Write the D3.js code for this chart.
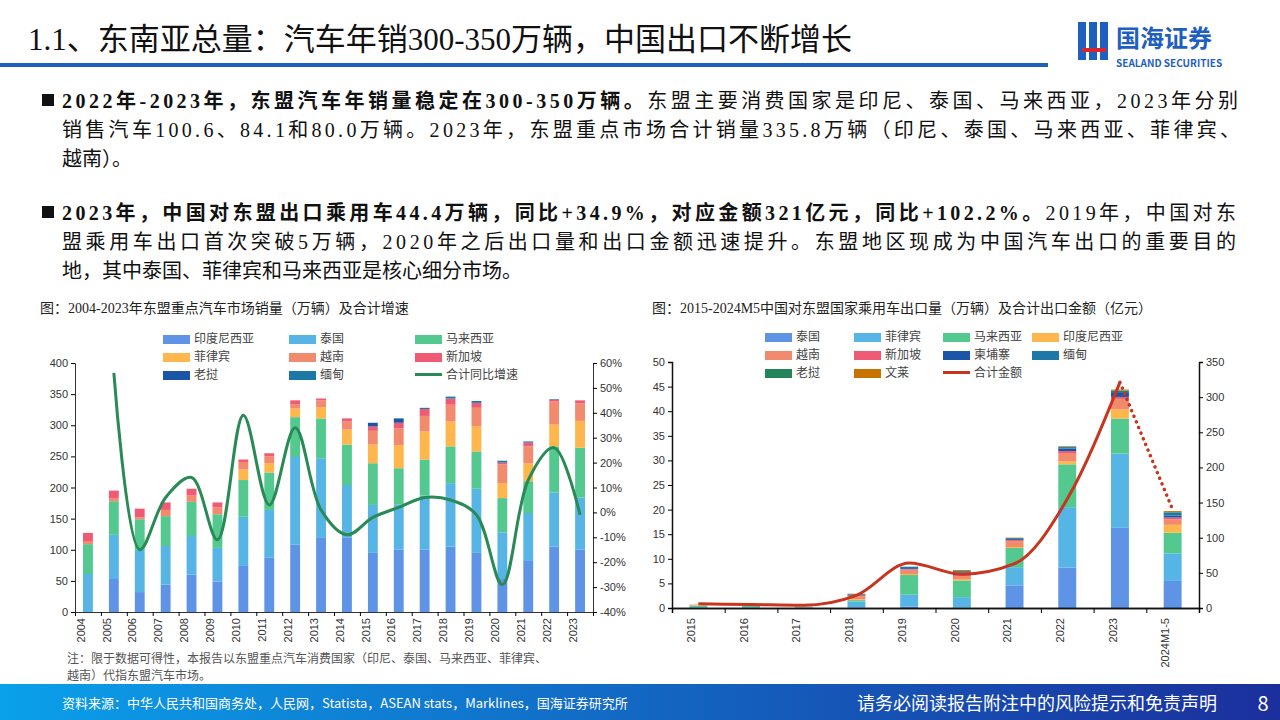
<!DOCTYPE html>
<html><head><meta charset="utf-8">
<script src="https://cdn.jsdelivr.net/npm/d3@7"></script>
<style>
body{margin:0;width:1280px;height:720px;overflow:hidden;background:#fff;font-family:"Noto Sans CJK SC","Noto Sans",sans-serif;}
svg{display:block}
</style></head><body>
<svg id="page" width="1280" height="720"></svg>
<script>
// ---- left chart data (万辆) ----
const YEARS_L = ["2004","2005","2006","2007","2008","2009","2010","2011","2012","2013","2014","2015","2016","2017","2018","2019","2020","2021","2022","2023"];
const SERIES_L = ["印度尼西亚","泰国","马来西亚","菲律宾","越南","新加坡","老挝","缅甸"];
const INDO_L = [0,53,32,44,60,49,74,87,108,119,120,95,100,100,105,95,53,82,105,100];
const THAI_L = [61,71,68,62,62,54,79,77,141,128,84,77,73,87,102,103,75,77,87,84];
const MALAY_L = [48,54,49,48,55,54,59,60,64,64,65,67,58,58,59,60,55,51,74,80];
const PHIL_L = [0,0,0,0,0,0,17,15,14,18,24,30,37,45,40,40,24,29,35,43];
const VIET_L = [5,5,3,10,10,11,12,11,7,11,13,22,27,25,27,30,30,27,37,28];
const SING_L = [13,12,14,12,11,8,4,5,6,3,5,7,9,11,10,8,3,6,3,5];
const LAOS_L = [0,0,0,0,0,0,0,0,0,0,0,6,7,0,0,0,0,0,0,0];
const MYAN_L = [0,0,0,0,0,0,0,0,0,0,0,0,0,2,3,3,3,2,1,0];
const GROWTH_L = [null,56,-15,6,14,-11,39,3,34,1,-9,-2,2,6,5,-1,-29,13,26,-1];

// ---- right chart data (万辆 / 亿元) ----
const YEARS_R = ["2015","2016","2017","2018","2019","2020","2021","2022","2023","2024M1-5"];
const SERIES_R = ["泰国","菲律宾","马来西亚","印度尼西亚","越南","新加坡","柬埔寨","缅甸","老挝","文莱"];
const THAI_R = [0.1,0.1,0.05,0.1,0.3,0.1,4.6,8.2,16.3,5.5];
const PHIL_R = [0.1,0.1,0.05,1.2,2.4,2.1,3.7,12.3,15.1,5.6];
const MALAY_R = [0.3,0.2,0.1,0.3,4.0,3.4,3.9,8.7,7.1,4.2];
const INDO_R = [0.1,0.05,0.05,0.2,0.2,0.3,0.2,0.6,1.9,1.6];
const VIET_R = [0.1,0.05,0.05,0.6,0.9,0.6,1.2,1.7,2.1,1.1];
const SING_R = [0,0,0,0.1,0.1,0.2,0.2,0.4,0.4,0.4];
const CAMB_R = [0,0,0,0.1,0.2,0.5,0.2,0.5,0.8,0.4];
const MYAN_R = [0,0,0,0.2,0.3,0.3,0.2,0.3,0.4,0.6];
const LAOS_R = [0,0,0,0,0,0,0,0.1,0.1,0.1];
const BRUN_R = [0,0,0,0.1,0,0.2,0.1,0.1,0.2,0.2];
const AMOUNT_R = [6,5,4,18,64,48,63,155,321,140];

const C = {blue:"#5e93e6",lblue:"#56b5e4",green:"#53c98f",orange:"#ffb74d",salmon:"#f28a6e",pink:"#ef5b75",dblue:"#1b55a8",teal:"#1c78a6",dgreen:"#23835a",brown:"#c87200"};
const SERIF = "'Liberation Serif','Noto Sans CJK SC',serif";

const svg = d3.select("#page");

// header
svg.append("text").attr("x",28).attr("y",50).attr("font-size",31).attr("fill","#111")
  .attr("font-family",SERIF).text("1.1、东南亚总量：汽车年销300-350万辆，中国出口不断增长");
svg.append("rect").attr("x",0).attr("y",63).attr("width",1048).attr("height",4).attr("fill","#1f5fbf");
// logo
const logo = svg.append("g").attr("transform","translate(1078,22)");
[0,11,22].forEach(dx => logo.append("rect").attr("x",dx).attr("y",0).attr("width",8).attr("height",38).attr("fill","#1f5fbf"));
logo.append("rect").attr("x",4).attr("y",26).attr("width",24).attr("height",4).attr("fill","#d8262e");
logo.append("text").attr("x",38).attr("y",25).attr("font-size",24).attr("font-weight",700).attr("fill","#1f5fbf").text("国海证券");
logo.append("text").attr("x",38).attr("y",45).attr("font-size",10).attr("font-weight",700).attr("fill","#1f5fbf").text("SEALAND SECURITIES");

// bullet paragraphs
const paras = [
  {y:108, lines:[[["2022年-2023年，东盟汽车年销量稳定在300-350万辆。",1],["东盟主要消费国家是印尼、泰国、马来西亚，2023年分别",0]],
                 [["销售汽车100.6、84.1和80.0万辆。2023年，东盟重点市场合计销量335.8万辆（印尼、泰国、马来西亚、菲律宾、",0]],
                 [["越南）。",0]]], lens:[1176,1178,null]},
  {y:220, lines:[[["2023年，中国对东盟出口乘用车44.4万辆，同比+34.9%，对应金额321亿元，同比+102.2%。",1],["2019年，中国对东",0]],
                 [["盟乘用车出口首次突破5万辆，2020年之后出口量和出口金额迅速提升。东盟地区现成为中国汽车出口的重要目的",0]],
                 [["地，其中泰国、菲律宾和马来西亚是核心细分市场。",0]]], lens:[1174,1174,null]}
];
paras.forEach(p => {
  svg.append("rect").attr("x",42).attr("y",p.y-14).attr("width",12).attr("height",12).attr("fill","#111");
  p.lines.forEach((ln, i) => {
    const t = svg.append("text").attr("x",62).attr("y", p.y + i*29).attr("font-size",20).attr("fill","#111")
      .attr("font-family",SERIF);
    if (p.lens[i]) t.attr("textLength",p.lens[i]).attr("lengthAdjust","spacing");
    ln.forEach(s => t.append("tspan").attr("font-weight", s[1]?700:400).text(s[0]));
  });
});

// chart titles
svg.append("text").attr("x",40).attr("y",313).attr("font-size",14).attr("fill","#222").attr("font-family",SERIF).text("图：2004-2023年东盟重点汽车市场销量（万辆）及合计增速");
svg.append("text").attr("x",652).attr("y",313).attr("font-size",14).attr("fill","#222").attr("font-family",SERIF).text("图：2015-2024M5中国对东盟国家乘用车出口量（万辆）及合计出口金额（亿元）");

function legend(g, items, x0, y0, dx, dy, ncol){
  items.forEach((it,i) => {
    const x = x0 + (i%ncol)*dx, y = y0 + Math.floor(i/ncol)*dy;
    if (it.line) g.append("rect").attr("x",x).attr("y",y-2).attr("width",27).attr("height",3).attr("fill",it.c);
    else g.append("rect").attr("x",x).attr("y",y-4).attr("width",27).attr("height",9).attr("fill",it.c);
    g.append("text").attr("x",x+31).attr("y",y+4).attr("font-size",12).attr("fill","#444").text(it.n);
  });
}

// ---------- left chart ----------
(function(){
  const g = svg.append("g");
  const x = d3.scaleBand().domain(YEARS_L).range([75,593]).paddingInner(0.62).paddingOuter(0.31);
  const y = d3.scaleLinear().domain([0,400]).range([612,363]);
  const y2 = d3.scaleLinear().domain([-40,60]).range([612,363]);
  const cols = [C.blue,C.lblue,C.green,C.orange,C.salmon,C.pink,C.dblue,C.teal];
  const arrs = [INDO_L,THAI_L,MALAY_L,PHIL_L,VIET_L,SING_L,LAOS_L,MYAN_L];
  const rows = YEARS_L.map((yr,i) => { const o={yr}; SERIES_L.forEach((s,k)=>o[s]=arrs[k][i]); return o; });
  const stack = d3.stack().keys(SERIES_L)(rows);
  stack.forEach((layer,k) => {
    g.selectAll(null).data(layer).enter().append("rect")
      .attr("x",d=>x(d.data.yr)).attr("width",x.bandwidth())
      .attr("y",d=>y(d[1])).attr("height",d=>y(d[0])-y(d[1])).attr("fill",cols[k]);
  });
  const pts = YEARS_L.map((yr,i)=>[x(yr)+x.bandwidth()/2, GROWTH_L[i]]).filter(d=>d[1]!==null);
  g.append("path").attr("d", d3.line().x(d=>d[0]).y(d=>y2(d[1])).curve(d3.curveCatmullRom.alpha(0.5))(pts))
    .attr("fill","none").attr("stroke","#2a8a55").attr("stroke-width",3);
  const ax = g.append("g").attr("transform","translate(0,612)").call(d3.axisBottom(x).tickSize(0).tickPadding(8));
  ax.selectAll("text").attr("transform","rotate(-90)").attr("text-anchor","end").attr("dx","-6").attr("dy","-0.3em").attr("x",0).attr("y",0).attr("font-size",11).attr("fill","#333");
  g.append("g").attr("transform","translate(0,612)").call(d3.axisBottom(d3.scaleLinear().domain([0,20]).range([75,593])).ticks(20).tickSize(4).tickFormat(""));
  g.append("g").attr("transform","translate(75,0)").call(d3.axisLeft(y).ticks(8).tickSize(4)).selectAll("text").attr("font-size",11).attr("fill","#333");
  g.append("g").attr("transform","translate(593,0)").call(d3.axisRight(y2).ticks(10).tickSize(4).tickFormat(d=>d+"%")).selectAll("text").attr("font-size",11).attr("fill","#333");
  g.selectAll(".domain").attr("stroke","#333");
  legend(g, SERIES_L.map((n,k)=>({n,c:cols[k]})).concat([{n:"合计同比增速",c:"#2a8a55",line:true}]), 163, 339, 126, 18, 3);
  g.append("text").attr("x",67).attr("y",663).attr("font-size",12).attr("fill","#555").text("注：限于数据可得性，本报告以东盟重点汽车消费国家（印尼、泰国、马来西亚、菲律宾、");
  g.append("text").attr("x",67).attr("y",680).attr("font-size",12).attr("fill","#555").text("越南）代指东盟汽车市场。");
})();

// ---------- right chart ----------
(function(){
  const g = svg.append("g");
  const x = d3.scaleBand().domain(YEARS_R).range([672,1199]).paddingInner(0.66).paddingOuter(0.33);
  const y = d3.scaleLinear().domain([0,50]).range([608,362]);
  const y2 = d3.scaleLinear().domain([0,350]).range([608,362]);
  const cols = [C.blue,C.lblue,C.green,C.orange,C.salmon,C.pink,C.dblue,C.teal,C.dgreen,C.brown];
  const arrs = [THAI_R,PHIL_R,MALAY_R,INDO_R,VIET_R,SING_R,CAMB_R,MYAN_R,LAOS_R,BRUN_R];
  const rows = YEARS_R.map((yr,i) => { const o={yr}; SERIES_R.forEach((s,k)=>o[s]=arrs[k][i]); return o; });
  const stack = d3.stack().keys(SERIES_R)(rows);
  stack.forEach((layer,k) => {
    g.selectAll(null).data(layer).enter().append("rect")
      .attr("x",d=>x(d.data.yr)).attr("width",x.bandwidth())
      .attr("y",d=>y(d[1])).attr("height",d=>y(d[0])-y(d[1])).attr("fill",cols[k]);
  });
  const pts = YEARS_R.map((yr,i)=>[x(yr)+x.bandwidth()/2, AMOUNT_R[i]]);
  const line = d3.line().x(d=>d[0]).y(d=>y2(d[1]));
  // solid up to 2023, dotted for 2024M1-5
  g.append("path").attr("d", line.curve(d3.curveMonotoneX)(pts.slice(0,9)))
    .attr("fill","none").attr("stroke","#c8351e").attr("stroke-width",3);
  g.append("path").attr("d", line.curve(d3.curveMonotoneX)(pts.slice(8)))
    .attr("fill","none").attr("stroke","#c8351e").attr("stroke-width",3.5).attr("stroke-dasharray","0.1 6").attr("stroke-linecap","round");
  const ax = g.append("g").attr("transform","translate(0,608)").call(d3.axisBottom(x).tickSize(0).tickPadding(8));
  ax.selectAll("text").attr("transform","rotate(-90)").attr("text-anchor","end").attr("dx","-10").attr("dy","-0.3em").attr("x",0).attr("y",0).attr("font-size",11).attr("fill","#333");
  g.append("g").attr("transform","translate(0,608)").call(d3.axisBottom(d3.scaleLinear().domain([0,10]).range([672,1199])).ticks(10).tickSize(5).tickFormat(""));
  g.append("g").attr("transform","translate(672,0)").call(d3.axisLeft(y).ticks(10).tickSize(4)).selectAll("text").attr("font-size",11).attr("fill","#333");
  g.append("g").attr("transform","translate(1199,0)").call(d3.axisRight(y2).ticks(7).tickSize(4)).selectAll("text").attr("font-size",11).attr("fill","#333");
  g.selectAll(".domain").attr("stroke","#111").attr("stroke-width",1.5);
  legend(g, SERIES_R.map((n,k)=>({n,c:cols[k]})).concat([{n:"合计金额",c:"#c8351e",line:true}]), 765, 337, 89, 18, 4);
})();

// footer
const grad = svg.append("defs").append("linearGradient").attr("id","fg");
grad.append("stop").attr("offset","0%").attr("stop-color","#0aa0ea");
grad.append("stop").attr("offset","100%").attr("stop-color","#1b2f9c");
svg.append("rect").attr("x",0).attr("y",684).attr("width",1280).attr("height",36).attr("fill","url(#fg)");
svg.append("text").attr("x",62).attr("y",708).attr("font-size",13).attr("fill","#fff").text("资料来源：中华人民共和国商务处，人民网，Statista，ASEAN stats，Marklines，国海证券研究所");
svg.append("text").attr("x",1217).attr("y",710).attr("text-anchor","end").attr("font-size",18).attr("fill","#fff").text("请务必阅读报告附注中的风险提示和免责声明");
svg.append("text").attr("x",1263).attr("y",711).attr("text-anchor","middle").attr("font-size",20).attr("fill","#fff").text("8");
</script>
</body></html>
